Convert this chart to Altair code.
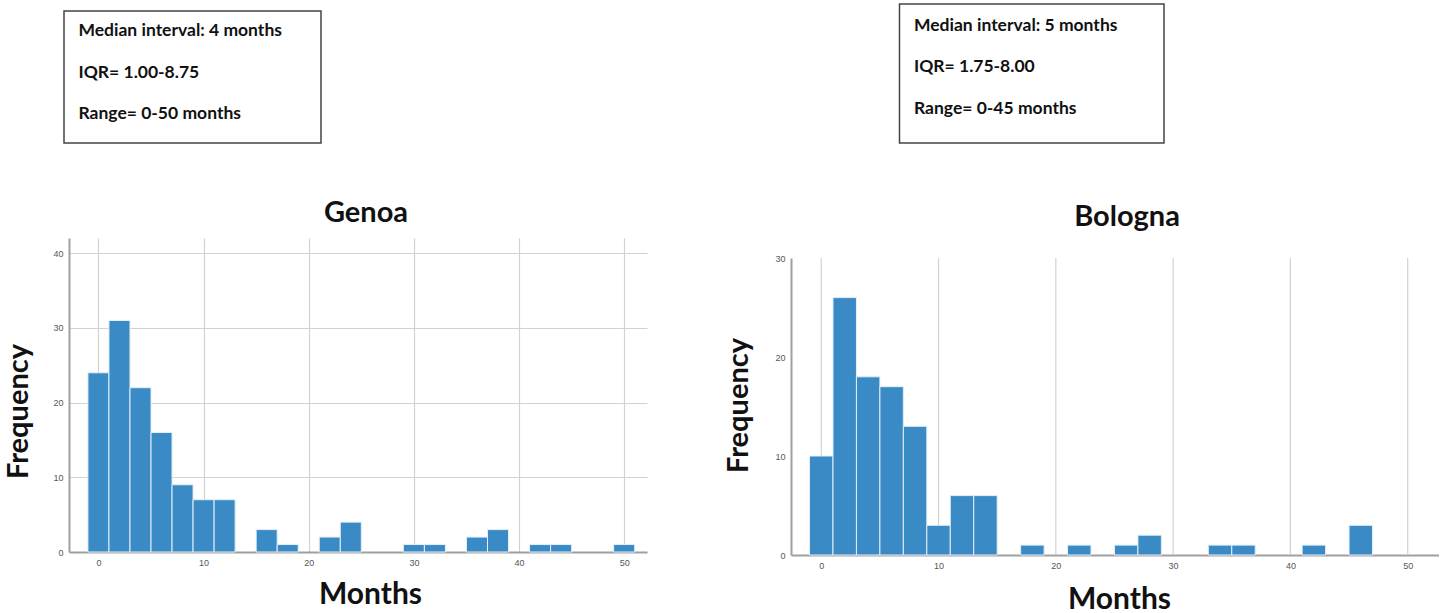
import altair as alt
import pandas as pd

# ---------------- data ----------------
genoa_months = [0, 2, 4, 6, 8, 10, 12, 14, 16, 18, 20, 22, 24, 26, 28, 30, 32, 34, 36, 38, 40, 42, 44, 46, 48, 50]
genoa_counts = [24, 31, 22, 16, 9, 7, 7, 0, 3, 1, 0, 2, 4, 0, 0, 1, 1, 0, 2, 3, 0, 1, 1, 0, 0, 1]

bologna_months = [0, 2, 4, 6, 8, 10, 12, 14, 16, 18, 20, 22, 24, 26, 28, 30, 32, 34, 36, 38, 40, 42, 44, 46]
bologna_counts = [10, 26, 18, 17, 13, 3, 6, 6, 0, 1, 0, 1, 0, 1, 2, 0, 0, 1, 1, 0, 0, 1, 0, 3]

genoa_stats = ["Median interval: 4 months", "IQR= 1.00-8.75", "Range= 0-50 months"]
bologna_stats = ["Median interval: 5 months", "IQR= 1.75-8.00", "Range= 0-45 months"]

x_ticks = [0, 10, 20, 30, 40, 50]
genoa_y_ticks = [0, 10, 20, 30, 40]
bologna_y_ticks = [0, 10, 20, 30]

BLUE = "#3a8ac6"
FONT = "Lato"
GRID = "#d2d2d2"


def panel(name, months, counts, stats, width, height, x_domain, y_domain, y_ticks,
          y_range, box, text_xy, title_xy, ytitle_xy, xtitle_xy, anchor=None):
    df = pd.DataFrame({"month": months, "count": counts})
    yscale = dict(domain=y_domain, nice=False, zero=True)
    if y_range is not None:
        yscale["range"] = y_range
    xs = alt.Scale(domain=x_domain, nice=False, zero=False)
    ys = alt.Scale(**yscale)
    own_grid = y_range is not None
    bars = (
        alt.Chart(df)
        .transform_filter("datum.count > 0")
        .transform_calculate(x0="datum.month - 1", x1="datum.month + 1")
        .mark_bar(color=BLUE, stroke="#e4eef8", strokeWidth=1)
        .encode(
            x=alt.X("x0:Q", scale=xs,
                    axis=alt.Axis(values=x_ticks, title="Months", titleFont=FONT,
                                  titleFontSize=30, titleFontWeight="bold", titleColor="#111",
                                  titleX=xtitle_xy[0], titleY=xtitle_xy[1],
                                  titleBaseline="alphabetic", titleAlign="center",
                                  labelFontSize=9, labelColor="#555", labelPadding=6,
                                  ticks=False, domainColor="#a0a0a0", domainWidth=2,
                                  grid=not own_grid, gridColor=GRID, gridWidth=1.2)),
            x2="x1:Q",
            y=alt.Y("count:Q", scale=ys,
                    axis=alt.Axis(values=y_ticks, title="Frequency", titleFont=FONT,
                                  titleFontSize=29, titleFontWeight="bold", titleColor="#111",
                                  titleX=ytitle_xy[0], titleY=ytitle_xy[1], titleAngle=270,
                                  titleBaseline="alphabetic", titleAlign="center",
                                  labelFontSize=9, labelColor="#555", labelPadding=6,
                                  ticks=False, domainColor="#a0a0a0", domainWidth=2,
                                  gridColor=GRID, gridWidth=1.2)),
            y2=alt.datum(0),
        )
    )
    one = alt.Data(values=[{"k": 1}])
    rect = alt.Chart(one).mark_rect(fill="white", stroke="#444", strokeWidth=1.5).encode(
        x=alt.value(box[0]), x2=alt.value(box[1]), y=alt.value(box[2]), y2=alt.value(box[3])
    )
    text = alt.Chart(one).mark_text(
        align="left", baseline="alphabetic", font=FONT, fontWeight="bold", fontSize=17.5,
        lineHeight=41.5, color="#111"
    ).encode(x=alt.value(text_xy[0]), y=alt.value(text_xy[1]), text=alt.value(stats))
    title = alt.Chart(one).mark_text(
        align="center", baseline="alphabetic", font=FONT, fontWeight="bold", fontSize=29,
        color="#111"
    ).encode(x=alt.value(title_xy[0]), y=alt.value(title_xy[1]), text=alt.value(name))
    layers = []
    if own_grid:
        gdf = pd.DataFrame({"tick": x_ticks})
        layers.append(
            alt.Chart(gdf).mark_rule(color=GRID, strokeWidth=1.2).encode(
                x=alt.X("tick:Q", scale=xs), y=alt.datum(y_domain[0], scale=ys),
                y2=alt.datum(y_domain[1]))
        )
    layers += [bars, rect, text, title]
    if anchor is not None:
        layers.append(
            alt.Chart(one).mark_rect(fillOpacity=0, opacity=0).encode(
                x=alt.value(anchor[0]), x2=alt.value(anchor[0] + 1),
                y=alt.value(anchor[1]), y2=alt.value(anchor[1] + 1))
        )
    return alt.layer(*layers).properties(width=width, height=height)


left = panel(
    "Genoa", genoa_months, genoa_counts, genoa_stats,
    width=578, height=314, x_domain=[-2.8, 52.17], y_domain=[0, 42.05], y_ticks=genoa_y_ticks,
    y_range=None, box=(-5, 252, -227, -95), text_xy=(9.5, -202), title_xy=(297, -16),
    ytitle_xy=(-42, 173), xtitle_xy=(301, 51), anchor=(-69, -238),
)
right = panel(
    "Bologna", bologna_months, bologna_counts, bologna_stats,
    width=648, height=317, x_domain=[-2.58, 52.67], y_domain=[0, 30], y_ticks=bologna_y_ticks,
    y_range=[317, 20], box=(108.5, 373, -234, -95), text_xy=(123, -207.5), title_xy=(336, -12),
    ytitle_xy=(-44, 167), xtitle_xy=(328, 53),
)

chart = (
    alt.hconcat(left, right, spacing=144, bounds="flush")
    .properties(padding=0, background="white")
    .configure_view(stroke=None)
)

chart.save("out.html", embed_options={"renderer": "svg", "actions": False})
